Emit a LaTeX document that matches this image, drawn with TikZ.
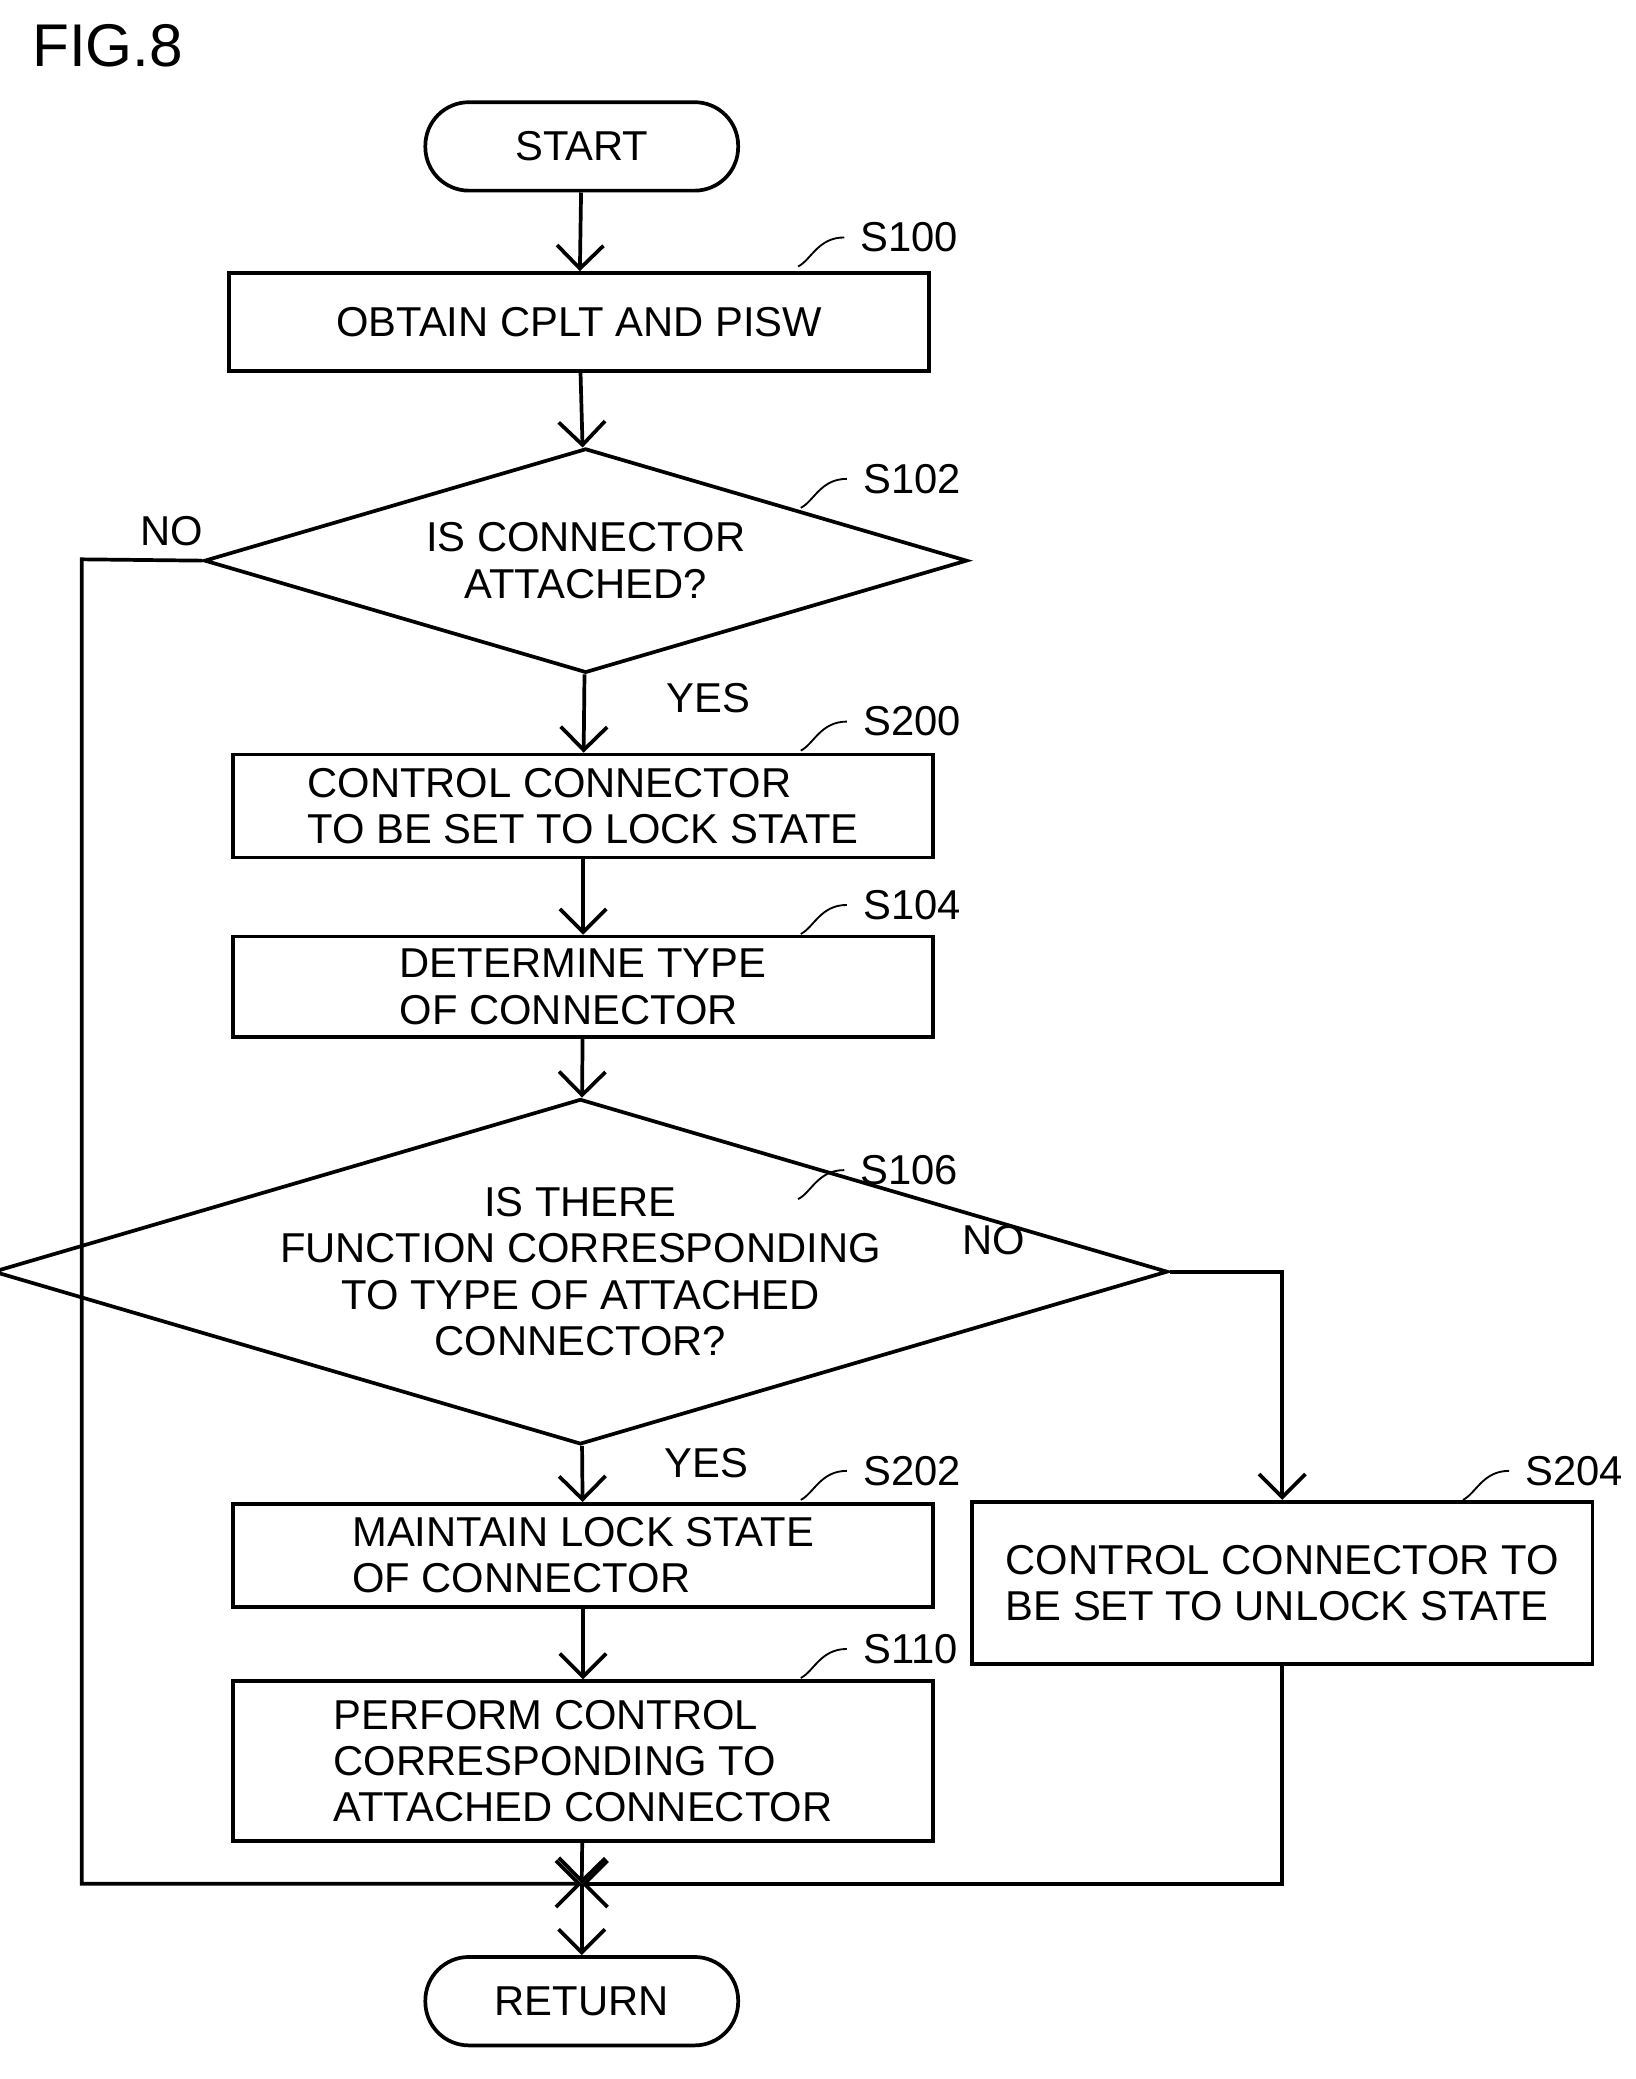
\documentclass[tikz,border=0pt]{standalone}
\usepackage{fontspec}
\setmainfont{Liberation Sans}
\usetikzlibrary{shapes.geometric,arrows.meta}
\tikzset{
  every node/.style={font=\fontsize{9}{10}\selectfont},
  proc/.style={draw, thick, minimum width=5.3cm, inner sep=2pt},
  term/.style={draw, thick, rounded corners=0.33cm, minimum width=2.37cm, minimum height=0.67cm},
  test/.style={draw, thick, diamond, aspect=3.4, inner sep=0pt, align=center},
  flow/.style={thick, -{Straight Barb[length=5pt]}},
  tag/.style={anchor=west},
}
\begin{document}
\begin{tikzpicture}[x=0.01cm, y=-0.01cm]
\useasboundingbox (0,0) rectangle (1240,1576);
\node[anchor=west, font=\fontsize{13}{14}\selectfont] (fig) at (12,35) {FIG.8};

% terminals and steps
\node[term] (start) at (441,111) {START};
\node[proc, minimum height=0.74cm] (s100) at (439,244) {OBTAIN CPLT AND PISW};
\node[test, minimum width=5.78cm, minimum height=1.70cm] (s102) at (444,425) {IS CONNECTOR\\ATTACHED?};
\node[proc, minimum height=0.78cm, align=left] (s200) at (442,611) {CONTROL CONNECTOR\\TO BE SET TO LOCK STATE};
\node[proc, minimum height=0.76cm, align=left] (s104) at (442,748) {DETERMINE TYPE\\OF CONNECTOR};
\node[test, minimum width=5.75cm, minimum height=2.33cm] (s106) at (440,964) {IS THERE\\FUNCTION CORRESPONDING\\TO TYPE OF ATTACHED\\CONNECTOR?};
\node[proc, minimum height=0.78cm, align=left] (s202) at (442,1179) {MAINTAIN LOCK STATE\\OF CONNECTOR};
\node[draw, thick, minimum width=4.7cm, minimum height=1.23cm, align=left] (s204) at (972,1200) {CONTROL CONNECTOR TO\\BE SET TO UNLOCK STATE};
\node[proc, minimum height=1.21cm, align=left] (s110) at (442,1335) {PERFORM CONTROL\\CORRESPONDING TO\\ATTACHED CONNECTOR};
\node[term] (ret) at (441,1517) {RETURN};
\coordinate (join) at (441,1428);

% step tags
\foreach \s/\x/\y in {S100/640/180, S102/642/363, S200/642/547, S104/642/686, S106/640/887, S202/642/1115, S110/642/1250, S204/1144/1115}
  {\node[tag] (t\s) at (\x,\y) {\s};
   \draw[thin] (t\s.west) .. controls ++(-20,0) and ++(10,-5) .. ++(-35,22);}

% connectors
\draw[flow] (start) -- (s100);
\draw[flow] (s100) -- (s102);
\draw[flow] (s102) -- (s200) node[pos=0.3, right=14pt] {YES};
\draw[flow] (s200) -- (s104);
\draw[flow] (s104) -- (s106);
\draw[flow] (s106) -- (s202) node[pos=0.3, right=14pt] {YES};
\draw[flow] (s202) -- (s110);
\draw[flow] (s110) -- (join);
\draw[flow] (join) -- (ret);
\draw[flow] (s102.west) -- (62,424) -- (62,1428) -- (join);
\node (no1) at (130,403) {NO};
\draw[flow] (s106.east) -| (s204.north);
\node (no2) at (753,940) {NO};
\draw[flow] (s204.south) |- (join);
\end{tikzpicture}
\end{document}
